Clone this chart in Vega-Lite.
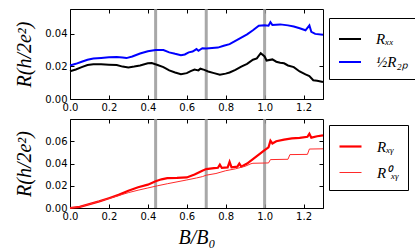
{
  "$schema": "https://vega.github.io/schema/vega-lite/v6.json",
  "padding": {"left": 14, "top": 7, "right": 5, "bottom": 5},
  "background": "white",
  "datasets": {
    "marks": [{"B": 0.44}, {"B": 0.70}, {"B": 1.0}],
    "top": [
      {"B": 0.00, "R": 0.0205, "s": "½R₂ₚ"}, {"B": 0.03, "R": 0.0215, "s": "½R₂ₚ"}, {"B": 0.06, "R": 0.0228, "s": "½R₂ₚ"},
      {"B": 0.09, "R": 0.0240, "s": "½R₂ₚ"}, {"B": 0.12, "R": 0.0248, "s": "½R₂ₚ"}, {"B": 0.16, "R": 0.0251, "s": "½R₂ₚ"},
      {"B": 0.20, "R": 0.0255, "s": "½R₂ₚ"}, {"B": 0.24, "R": 0.0256, "s": "½R₂ₚ"}, {"B": 0.27, "R": 0.0254, "s": "½R₂ₚ"},
      {"B": 0.29, "R": 0.0250, "s": "½R₂ₚ"}, {"B": 0.32, "R": 0.0260, "s": "½R₂ₚ"}, {"B": 0.36, "R": 0.0278, "s": "½R₂ₚ"},
      {"B": 0.40, "R": 0.0292, "s": "½R₂ₚ"}, {"B": 0.44, "R": 0.0300, "s": "½R₂ₚ"}, {"B": 0.48, "R": 0.0299, "s": "½R₂ₚ"},
      {"B": 0.51, "R": 0.0285, "s": "½R₂ₚ"}, {"B": 0.54, "R": 0.0276, "s": "½R₂ₚ"}, {"B": 0.57, "R": 0.0268, "s": "½R₂ₚ"},
      {"B": 0.59, "R": 0.0272, "s": "½R₂ₚ"}, {"B": 0.61, "R": 0.0285, "s": "½R₂ₚ"}, {"B": 0.63, "R": 0.0290, "s": "½R₂ₚ"},
      {"B": 0.65, "R": 0.0305, "s": "½R₂ₚ"}, {"B": 0.66, "R": 0.0295, "s": "½R₂ₚ"}, {"B": 0.68, "R": 0.0310, "s": "½R₂ₚ"},
      {"B": 0.70, "R": 0.0308, "s": "½R₂ₚ"}, {"B": 0.73, "R": 0.0312, "s": "½R₂ₚ"}, {"B": 0.76, "R": 0.0314, "s": "½R₂ₚ"},
      {"B": 0.79, "R": 0.0325, "s": "½R₂ₚ"}, {"B": 0.82, "R": 0.0335, "s": "½R₂ₚ"}, {"B": 0.85, "R": 0.0355, "s": "½R₂ₚ"},
      {"B": 0.88, "R": 0.0375, "s": "½R₂ₚ"}, {"B": 0.91, "R": 0.0395, "s": "½R₂ₚ"}, {"B": 0.94, "R": 0.0420, "s": "½R₂ₚ"},
      {"B": 0.97, "R": 0.0448, "s": "½R₂ₚ"}, {"B": 1.00, "R": 0.0450, "s": "½R₂ₚ"}, {"B": 1.02, "R": 0.0448, "s": "½R₂ₚ"},
      {"B": 1.03, "R": 0.0470, "s": "½R₂ₚ"}, {"B": 1.04, "R": 0.0452, "s": "½R₂ₚ"}, {"B": 1.08, "R": 0.0456, "s": "½R₂ₚ"},
      {"B": 1.12, "R": 0.0450, "s": "½R₂ₚ"}, {"B": 1.15, "R": 0.0443, "s": "½R₂ₚ"}, {"B": 1.18, "R": 0.0432, "s": "½R₂ₚ"},
      {"B": 1.21, "R": 0.0420, "s": "½R₂ₚ"}, {"B": 1.23, "R": 0.0450, "s": "½R₂ₚ"}, {"B": 1.24, "R": 0.0410, "s": "½R₂ₚ"},
      {"B": 1.26, "R": 0.0398, "s": "½R₂ₚ"}, {"B": 1.30, "R": 0.0392, "s": "½R₂ₚ"},
      {"B": 0.00, "R": 0.0170, "s": "Rₓₓ"}, {"B": 0.03, "R": 0.0180, "s": "Rₓₓ"}, {"B": 0.06, "R": 0.0195, "s": "Rₓₓ"},
      {"B": 0.09, "R": 0.0208, "s": "Rₓₓ"}, {"B": 0.12, "R": 0.0212, "s": "Rₓₓ"}, {"B": 0.16, "R": 0.0212, "s": "Rₓₓ"},
      {"B": 0.20, "R": 0.0210, "s": "Rₓₓ"}, {"B": 0.24, "R": 0.0208, "s": "Rₓₓ"}, {"B": 0.27, "R": 0.0198, "s": "Rₓₓ"},
      {"B": 0.30, "R": 0.0193, "s": "Rₓₓ"}, {"B": 0.33, "R": 0.0198, "s": "Rₓₓ"}, {"B": 0.36, "R": 0.0205, "s": "Rₓₓ"},
      {"B": 0.40, "R": 0.0218, "s": "Rₓₓ"}, {"B": 0.42, "R": 0.0220, "s": "Rₓₓ"}, {"B": 0.45, "R": 0.0208, "s": "Rₓₓ"},
      {"B": 0.48, "R": 0.0195, "s": "Rₓₓ"}, {"B": 0.51, "R": 0.0175, "s": "Rₓₓ"}, {"B": 0.54, "R": 0.0162, "s": "Rₓₓ"},
      {"B": 0.57, "R": 0.0152, "s": "Rₓₓ"}, {"B": 0.60, "R": 0.0158, "s": "Rₓₓ"}, {"B": 0.62, "R": 0.0170, "s": "Rₓₓ"},
      {"B": 0.64, "R": 0.0180, "s": "Rₓₓ"}, {"B": 0.66, "R": 0.0175, "s": "Rₓₓ"}, {"B": 0.67, "R": 0.0185, "s": "Rₓₓ"},
      {"B": 0.69, "R": 0.0178, "s": "Rₓₓ"}, {"B": 0.71, "R": 0.0168, "s": "Rₓₓ"}, {"B": 0.74, "R": 0.0158, "s": "Rₓₓ"},
      {"B": 0.77, "R": 0.0148, "s": "Rₓₓ"}, {"B": 0.80, "R": 0.0155, "s": "Rₓₓ"}, {"B": 0.82, "R": 0.0162, "s": "Rₓₓ"},
      {"B": 0.85, "R": 0.0178, "s": "Rₓₓ"}, {"B": 0.88, "R": 0.0198, "s": "Rₓₓ"}, {"B": 0.91, "R": 0.0215, "s": "Rₓₓ"},
      {"B": 0.94, "R": 0.0240, "s": "Rₓₓ"}, {"B": 0.96, "R": 0.0248, "s": "Rₓₓ"}, {"B": 0.98, "R": 0.0280, "s": "Rₓₓ"},
      {"B": 1.00, "R": 0.0260, "s": "Rₓₓ"}, {"B": 1.01, "R": 0.0235, "s": "Rₓₓ"}, {"B": 1.04, "R": 0.0242, "s": "Rₓₓ"},
      {"B": 1.06, "R": 0.0228, "s": "Rₓₓ"}, {"B": 1.08, "R": 0.0222, "s": "Rₓₓ"}, {"B": 1.10, "R": 0.0218, "s": "Rₓₓ"},
      {"B": 1.12, "R": 0.0205, "s": "Rₓₓ"}, {"B": 1.15, "R": 0.0195, "s": "Rₓₓ"}, {"B": 1.18, "R": 0.0168, "s": "Rₓₓ"},
      {"B": 1.21, "R": 0.0150, "s": "Rₓₓ"}, {"B": 1.23, "R": 0.0140, "s": "Rₓₓ"}, {"B": 1.25, "R": 0.0115, "s": "Rₓₓ"},
      {"B": 1.27, "R": 0.0112, "s": "Rₓₓ"}, {"B": 1.30, "R": 0.0104, "s": "Rₓₓ"}
    ],
    "bottom": [
      {"B": 0.00, "R": 0.0000, "s": "Rₓᵧ"}, {"B": 0.05, "R": 0.0010, "s": "Rₓᵧ"}, {"B": 0.10, "R": 0.0035, "s": "Rₓᵧ"},
      {"B": 0.15, "R": 0.0060, "s": "Rₓᵧ"}, {"B": 0.20, "R": 0.0088, "s": "Rₓᵧ"}, {"B": 0.25, "R": 0.0118, "s": "Rₓᵧ"},
      {"B": 0.30, "R": 0.0155, "s": "Rₓᵧ"}, {"B": 0.35, "R": 0.0186, "s": "Rₓᵧ"}, {"B": 0.40, "R": 0.0210, "s": "Rₓᵧ"},
      {"B": 0.44, "R": 0.0240, "s": "Rₓᵧ"}, {"B": 0.47, "R": 0.0258, "s": "Rₓᵧ"}, {"B": 0.50, "R": 0.0268, "s": "Rₓᵧ"},
      {"B": 0.55, "R": 0.0270, "s": "Rₓᵧ"}, {"B": 0.60, "R": 0.0275, "s": "Rₓᵧ"}, {"B": 0.64, "R": 0.0302, "s": "Rₓᵧ"},
      {"B": 0.68, "R": 0.0335, "s": "Rₓᵧ"}, {"B": 0.70, "R": 0.0350, "s": "Rₓᵧ"}, {"B": 0.74, "R": 0.0358, "s": "Rₓᵧ"},
      {"B": 0.76, "R": 0.0362, "s": "Rₓᵧ"}, {"B": 0.77, "R": 0.0390, "s": "Rₓᵧ"}, {"B": 0.78, "R": 0.0360, "s": "Rₓᵧ"},
      {"B": 0.81, "R": 0.0365, "s": "Rₓᵧ"}, {"B": 0.82, "R": 0.0415, "s": "Rₓᵧ"}, {"B": 0.83, "R": 0.0365, "s": "Rₓᵧ"},
      {"B": 0.86, "R": 0.0372, "s": "Rₓᵧ"}, {"B": 0.87, "R": 0.0400, "s": "Rₓᵧ"}, {"B": 0.88, "R": 0.0372, "s": "Rₓᵧ"},
      {"B": 0.91, "R": 0.0400, "s": "Rₓᵧ"}, {"B": 0.94, "R": 0.0440, "s": "Rₓᵧ"}, {"B": 0.97, "R": 0.0480, "s": "Rₓᵧ"},
      {"B": 1.00, "R": 0.0520, "s": "Rₓᵧ"}, {"B": 1.02, "R": 0.0545, "s": "Rₓᵧ"}, {"B": 1.03, "R": 0.0605, "s": "Rₓᵧ"},
      {"B": 1.04, "R": 0.0580, "s": "Rₓᵧ"}, {"B": 1.06, "R": 0.0600, "s": "Rₓᵧ"}, {"B": 1.10, "R": 0.0615, "s": "Rₓᵧ"},
      {"B": 1.14, "R": 0.0625, "s": "Rₓᵧ"}, {"B": 1.18, "R": 0.0630, "s": "Rₓᵧ"}, {"B": 1.22, "R": 0.0640, "s": "Rₓᵧ"},
      {"B": 1.23, "R": 0.0668, "s": "Rₓᵧ"}, {"B": 1.24, "R": 0.0632, "s": "Rₓᵧ"}, {"B": 1.27, "R": 0.0645, "s": "Rₓᵧ"},
      {"B": 1.30, "R": 0.0653, "s": "Rₓᵧ"},
      {"B": 0.00, "R": 0.0000, "s": "R⁰ₓᵧ"}, {"B": 0.05, "R": 0.0010, "s": "R⁰ₓᵧ"}, {"B": 0.10, "R": 0.0035, "s": "R⁰ₓᵧ"},
      {"B": 0.15, "R": 0.0060, "s": "R⁰ₓᵧ"}, {"B": 0.20, "R": 0.0085, "s": "R⁰ₓᵧ"}, {"B": 0.25, "R": 0.0112, "s": "R⁰ₓᵧ"},
      {"B": 0.30, "R": 0.0138, "s": "R⁰ₓᵧ"}, {"B": 0.35, "R": 0.0160, "s": "R⁰ₓᵧ"}, {"B": 0.40, "R": 0.0180, "s": "R⁰ₓᵧ"},
      {"B": 0.45, "R": 0.0200, "s": "R⁰ₓᵧ"}, {"B": 0.50, "R": 0.0218, "s": "R⁰ₓᵧ"}, {"B": 0.55, "R": 0.0235, "s": "R⁰ₓᵧ"},
      {"B": 0.60, "R": 0.0252, "s": "R⁰ₓᵧ"}, {"B": 0.65, "R": 0.0270, "s": "R⁰ₓᵧ"}, {"B": 0.68, "R": 0.0282, "s": "R⁰ₓᵧ"},
      {"B": 0.70, "R": 0.0295, "s": "R⁰ₓᵧ"}, {"B": 0.75, "R": 0.0310, "s": "R⁰ₓᵧ"}, {"B": 0.80, "R": 0.0335, "s": "R⁰ₓᵧ"},
      {"B": 0.85, "R": 0.0352, "s": "R⁰ₓᵧ"}, {"B": 0.90, "R": 0.0375, "s": "R⁰ₓᵧ"}, {"B": 0.93, "R": 0.0398, "s": "R⁰ₓᵧ"},
      {"B": 0.94, "R": 0.0402, "s": "R⁰ₓᵧ"}, {"B": 1.02, "R": 0.0405, "s": "R⁰ₓᵧ"}, {"B": 1.03, "R": 0.0435, "s": "R⁰ₓᵧ"},
      {"B": 1.12, "R": 0.0438, "s": "R⁰ₓᵧ"}, {"B": 1.13, "R": 0.0480, "s": "R⁰ₓᵧ"}, {"B": 1.22, "R": 0.0482, "s": "R⁰ₓᵧ"},
      {"B": 1.23, "R": 0.0530, "s": "R⁰ₓᵧ"}, {"B": 1.30, "R": 0.0532, "s": "R⁰ₓᵧ"}
    ]
  },
  "vconcat": [
    {
      "width": 253,
      "height": 90,
      "layer": [
        {
          "data": {"name": "marks"},
          "mark": {"type": "rule", "color": "#999999", "strokeWidth": 3, "opacity": 0.85},
          "encoding": {
            "x": {"field": "B", "type": "quantitative", "scale": {"domain": [0, 1.3], "nice": false},
                  "axis": {"orient": "top", "labels": false, "title": null, "values": [0, 0.2, 0.4, 0.6, 0.8, 1.0, 1.2]}}
          }
        },
        {
          "data": {"name": "top"},
          "mark": {"type": "line", "strokeWidth": 2, "opacity": 0},
          "encoding": {
            "x": {"field": "B", "type": "quantitative", "axis": null},
            "y": {"field": "R", "type": "quantitative", "axis": {"orient": "right", "labels": false, "title": null, "values": [0, 0.02, 0.04]}},
            "detail": {"field": "s"}
          }
        },
        {
          "data": {"name": "top"},
          "mark": {"type": "line", "strokeWidth": 2},
          "encoding": {
            "x": {"field": "B", "type": "quantitative", "scale": {"domain": [0, 1.3], "nice": false},
                  "axis": {"title": null, "format": ".1f", "values": [0, 0.2, 0.4, 0.6, 0.8, 1.0, 1.2]}},
            "y": {"field": "R", "type": "quantitative", "scale": {"domain": [0, 0.055], "nice": false},
                  "axis": {"title": "R(h/2e²)", "format": ".2f", "values": [0, 0.02, 0.04]}},
            "color": {"field": "s", "type": "nominal",
                      "scale": {"domain": ["Rₓₓ", "½R₂ₚ"], "range": ["#000000", "#0000ff"]},
                      "legend": {"orient": "none", "legendX": 259, "legendY": 9, "symbolStrokeWidth": 2, "rowPadding": 3}}
          }
        }
      ],
      "resolve": {"axis": {"x": "independent", "y": "independent"}}
    },
    {
      "width": 253,
      "height": 89,
      "layer": [
        {
          "data": {"name": "marks"},
          "mark": {"type": "rule", "color": "#999999", "strokeWidth": 3, "opacity": 0.85},
          "encoding": {
            "x": {"field": "B", "type": "quantitative", "scale": {"domain": [0, 1.3], "nice": false},
                  "axis": {"orient": "top", "labels": false, "title": null, "values": [0, 0.2, 0.4, 0.6, 0.8, 1.0, 1.2]}}
          }
        },
        {
          "data": {"name": "bottom"},
          "mark": {"type": "line", "strokeWidth": 2, "opacity": 0},
          "encoding": {
            "x": {"field": "B", "type": "quantitative", "axis": null},
            "y": {"field": "R", "type": "quantitative", "axis": {"orient": "right", "labels": false, "title": null, "values": [0, 0.02, 0.04, 0.06]}},
            "detail": {"field": "s"}
          }
        },
        {
          "data": {"name": "bottom"},
          "mark": {"type": "line"},
          "encoding": {
            "x": {"field": "B", "type": "quantitative", "scale": {"domain": [0, 1.3], "nice": false},
                  "axis": {"title": "B/B₀", "format": ".1f", "values": [0, 0.2, 0.4, 0.6, 0.8, 1.0, 1.2]}},
            "y": {"field": "R", "type": "quantitative", "scale": {"domain": [0, 0.08], "nice": false},
                  "axis": {"title": "R(h/2e²)", "format": ".2f", "values": [0, 0.02, 0.04, 0.06]}},
            "color": {"field": "s", "type": "nominal",
                      "scale": {"domain": ["Rₓᵧ", "R⁰ₓᵧ"], "range": ["#ff0000", "#ff2a2a"]},
                      "legend": {"orient": "none", "legendX": 259, "legendY": 6, "rowPadding": 6}},
            "strokeWidth": {"field": "s", "type": "nominal",
                      "scale": {"domain": ["Rₓᵧ", "R⁰ₓᵧ"], "range": [2.2, 1]},
                      "legend": {"orient": "none", "legendX": 259, "legendY": 6, "rowPadding": 6}}
          }
        }
      ],
      "resolve": {"axis": {"x": "independent", "y": "independent"}}
    }
  ],
  "spacing": 4,
  "resolve": {"scale": {"color": "independent", "strokeWidth": "independent"}, "legend": {"color": "independent"}},
  "config": {
    "view": {"stroke": "#000000", "strokeWidth": 1},
    "axis": {
      "grid": false,
      "domain": false,
      "tickSize": -4,
      "tickColor": "#000000",
      "labelPadding": 7,
      "labelFont": "DejaVu Sans",
      "labelFontSize": 10,
      "labelColor": "#000000",
      "titleFont": "Liberation Serif",
      "titleFontStyle": "italic",
      "titleFontWeight": "normal",
      "titleFontSize": 20,
      "titleColor": "#000000",
      "labelFlush": false,
      "labelOverlap": false
    },
    "axisY": {"titlePadding": 10},
    "axisX": {"titlePadding": 6},
    "legend": {
      "title": null,
      "strokeColor": "#000000",
      "fillColor": "#ffffff",
      "padding": 9,
      "symbolType": "stroke",
      "symbolSize": 484,
      "labelOffset": 14,
      "labelFont": "Liberation Serif",
      "labelFontStyle": "italic",
      "labelFontSize": 15,
      "labelColor": "#000000",
      "cornerRadius": 0
    }
  }
}
